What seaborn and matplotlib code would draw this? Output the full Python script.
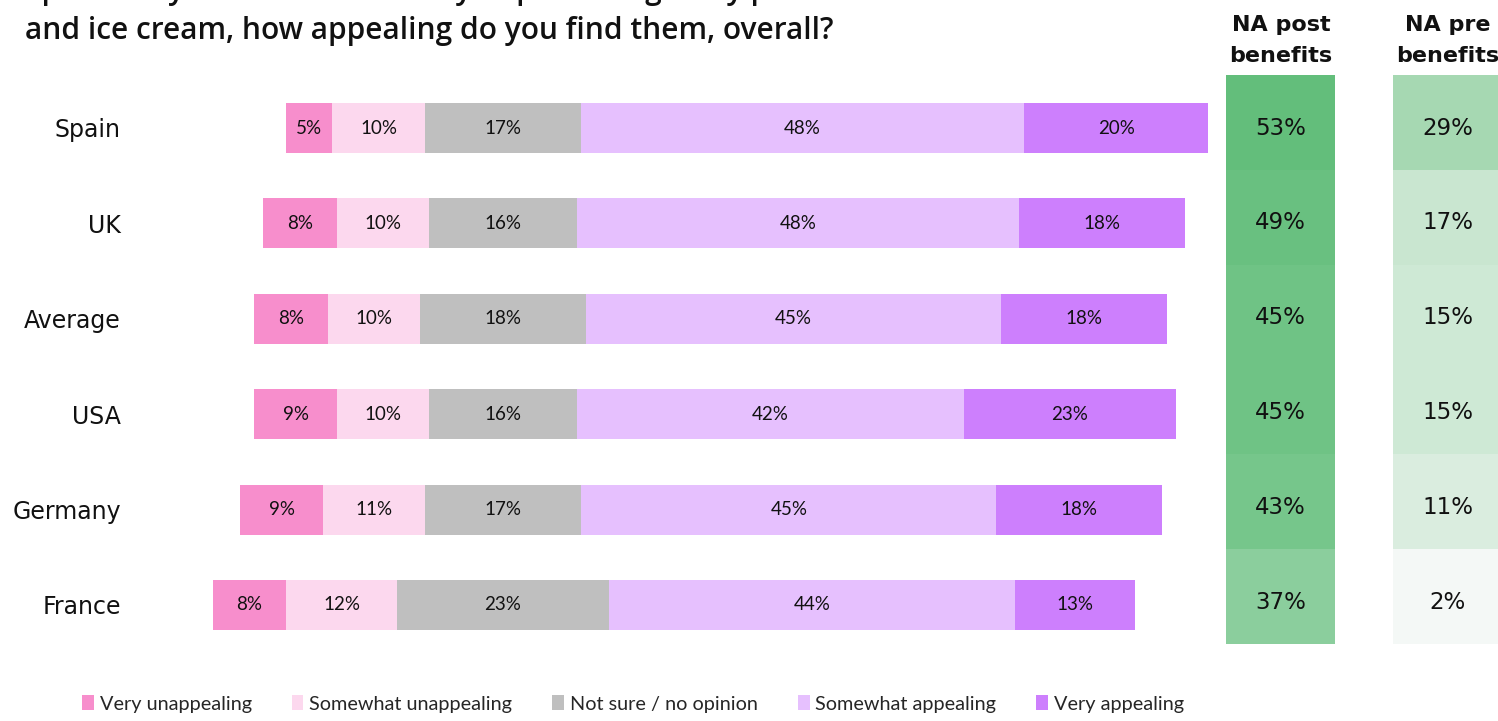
import numpy as np
import pandas as pd
import matplotlib
matplotlib.use("Agg")
import matplotlib.pyplot as plt
from matplotlib.patches import Patch
from matplotlib.colors import LinearSegmentedColormap
import seaborn as sns

# ---------------- data ----------------
countries = ["Spain", "UK", "Average", "USA", "Germany", "France"]
very_unappealing = [5, 8, 8, 9, 9, 8]
somewhat_unappealing = [10, 10, 10, 10, 11, 12]
not_sure = [17, 16, 18, 16, 17, 23]
somewhat_appealing = [48, 48, 45, 42, 45, 44]
very_appealing = [20, 18, 18, 23, 18, 13]
na_post = [53, 49, 45, 45, 43, 37]
na_pre = [29, 17, 15, 15, 11, 2]

segment_names = ["Very unappealing", "Somewhat unappealing", "Not sure / no opinion",
                 "Somewhat appealing", "Very appealing"]
segment_colors = ["#F78ECC", "#FCD8EE", "#BFBFBF", "#E6C0FE", "#CD7FFD"]

title_line1 = "Specifically about this new way of producing dairy products like cheese"
title_line2 = "and ice cream, how appealing do you find them, overall?"
post_header = ["NA post", "benefits"]
pre_header = ["NA pre", "benefits"]

# ---------------- figure ----------------
sns.set_theme(style="white")
plt.rcParams["font.family"] = ["DejaVu Sans"]

W, H = 1498, 721
fig = plt.figure(figsize=(W / 100, H / 100), dpi=100)


def ax_px(x0, y0, x1, y1):
    return fig.add_axes([x0 / W, 1 - y1 / H, (x1 - x0) / W, (y1 - y0) / H])


# main diverging bar axes
ax = ax_px(130, 80.3, 1215, 652.7)
vu = np.array(very_unappealing, float)
su = np.array(somewhat_unappealing, float)
ns = np.array(not_sure, float)
sa = np.array(somewhat_appealing, float)
va = np.array(very_appealing, float)

half = ns / 2
layers = [
    (half + sa + va, segment_colors[4]),
    (half + sa, segment_colors[3]),
    (half, segment_colors[2]),
    (-(half + su + vu), segment_colors[0]),
    (-(half + su), segment_colors[1]),
    (-half, segment_colors[2]),
]
bar_h = 50 / 95.4
for vals, col in layers:
    sns.barplot(x=vals, y=countries, color=col, saturation=1, width=bar_h,
                errorbar=None, orient="h", ax=ax, linewidth=0)

# segment labels
starts = [-(half + su + vu), -(half + su), -half, half, half + sa]
widths = [vu, su, ns, sa, va]
for s, w in zip(starts, widths):
    for i in range(len(countries)):
        ax.text(s[i] + w[i] / 2, i, f"{int(w[i])}%", ha="center", va="center",
                fontsize=13.5, family=["Lato", "DejaVu Sans"], color="#111111")

px_per = 9.22
ax.set_xlim(-(503 - 130) / px_per, (1215 - 503) / px_per)
ax.set_ylim(len(countries) - 0.5, -0.5)
ax.set_xlabel("")
ax.set_ylabel("")
ax.set_xticks([])
ax.tick_params(axis="y", length=0, pad=6.5)
for lab in ax.get_yticklabels():
    lab.set_fontsize(17)
    lab.set_family(["DejaVu Sans"])
    lab.set_color("#111111")
for sp in ax.spines.values():
    sp.set_visible(False)
ax.patch.set_alpha(0)

# heatmap panels (shared colour scale)
green_cmap = LinearSegmentedColormap.from_list(
    "g", [(0.0, "#F4F8F6"), (0.529, "#A6D8B2"), (0.686, "#8BCE9D"),
          (0.843, "#6FC385"), (1.0, "#63BE7B")])


def panel(x0, x1, vals, vmin, vmax):
    a = ax_px(x0, 75, x1, 644)
    data = np.array(vals, float).reshape(-1, 1)
    labels = np.array([f"{v}%" for v in vals]).reshape(-1, 1)
    sns.heatmap(data, ax=a, cmap=green_cmap, vmin=vmin, vmax=vmax, cbar=False,
                annot=labels, fmt="", linewidths=0,
                annot_kws={"fontsize": 16.5, "color": "#111111",
                           "family": "DejaVu Sans"})
    for t in a.texts:
        x, y = t.get_position()
        t.set_position((x, y + 0.06))
    a.set_xticks([])
    a.set_yticks([])
    return a


panel(1226, 1335, na_post, 2, 53)
panel(1393, 1502, na_pre, 2, 53)

# headers
for cx, lines in [(1281, post_header), (1447.5, pre_header)]:
    fig.text(cx / W, 1 - 31 / H, lines[0], ha="center", va="baseline",
             fontsize=16, fontweight="bold", color="#111111")
    fig.text(cx / W, 1 - 62 / H, lines[1], ha="center", va="baseline",
             fontsize=16, fontweight="bold", color="#111111")

# title (first line partially cut off at top, as in the reference)
fig.text(25 / W, 1 + 1 / H, title_line1, ha="left", va="baseline",
         fontsize=21.5, fontweight="semibold", family=["Open Sans", "DejaVu Sans"],
         color="#111111")
fig.text(25 / W, 1 - 39 / H, title_line2, ha="left", va="baseline",
         fontsize=21.5, fontweight="semibold", family=["Open Sans", "DejaVu Sans"],
         color="#111111")

# legend
handles = [Patch(facecolor=c, edgecolor="none", label=n)
           for n, c in zip(segment_names, segment_colors)]
fig.legend(handles=handles, loc="center", bbox_to_anchor=(633 / W, 1 - 704 / H),
           ncol=5, frameon=False, handlelength=0.6, handleheight=0.75,
           handletextpad=0.3, columnspacing=2.0,
           prop={"family": ["Lato", "DejaVu Sans"], "size": 14.3})

fig.savefig("out.png", dpi=100)
